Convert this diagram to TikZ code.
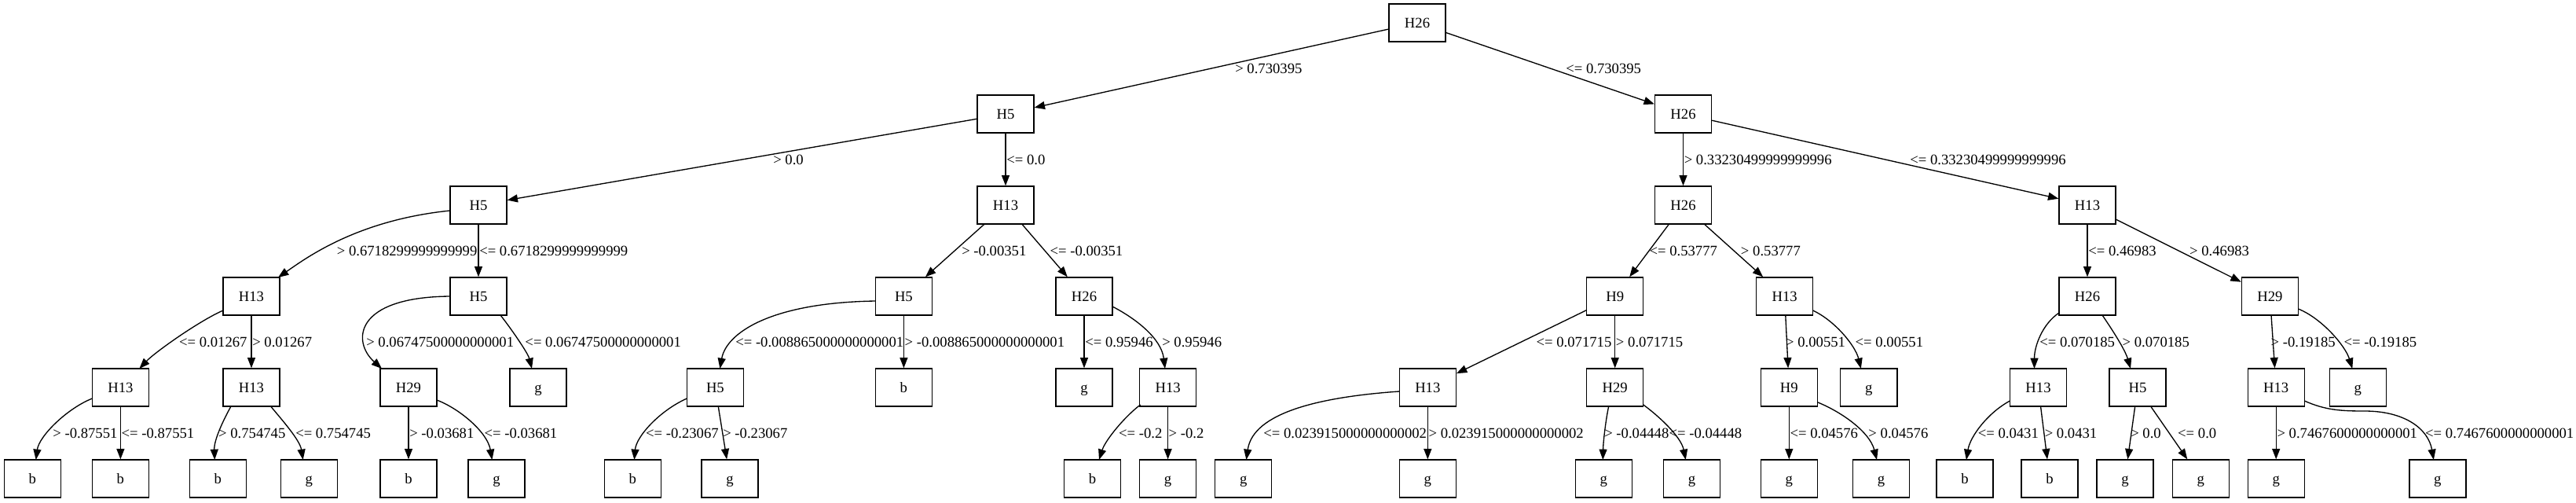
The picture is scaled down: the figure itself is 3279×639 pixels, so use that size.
\documentclass[tikz,border=0pt]{standalone}
\usepackage{fontspec}
\setmainfont{Liberation Serif}
\usetikzlibrary{arrows.meta,calc}
\begin{document}
\begin{tikzpicture}[x=0.75pt,y=-0.75pt,
  tn/.style={draw, line width=1pt, rectangle, minimum width=54pt, minimum height=36pt, inner sep=0pt, font=\fontsize{14}{16}\selectfont, text height=9.4pt, text depth=0pt},
  el/.style={anchor=west, inner sep=0pt, font=\fontsize{14}{16}\selectfont},
  conn/.style={line width=1pt, -{Triangle[length=10pt,width=7.5pt]}}]
\fill[white] (0,0) rectangle (3279,639);
\useasboundingbox (0,0) rectangle (3279,639);
% level 0-2
\node[tn] (n0) at (1804,29) {H26};
\node[tn] (n1) at (1280,145) {H5};
\node[tn] (n2) at (2142.5,145) {H26};
\node[tn] (n3) at (609,261) {H5};
\node[tn] (n4) at (1280,261) {H13};
\node[tn] (n5) at (2142.5,261) {H26};
\node[tn] (n6) at (2657,261) {H13};
% level 3
\node[tn] (n7) at (320,377) {H13};
\node[tn] (n8) at (609,377) {H5};
\node[tn] (n9) at (1150.4,377) {H5};
\node[tn] (n10) at (1380,377) {H26};
\node[tn] (n11) at (2055.7,377) {H9};
\node[tn] (n12) at (2271.6,377) {H13};
\node[tn] (n13) at (2657,377) {H26};
\node[tn] (n14) at (2889.4,377) {H29};
% level 4
\node[tn] (n15) at (153.4,493) {H13};
\node[tn] (n16) at (320,493) {H13};
\node[tn] (n17) at (520,493) {H29};
\node[tn] (n18) at (685,493) {g};
\node[tn] (n19) at (910.4,493) {H5};
\node[tn] (n20) at (1150.4,493) {b};
\node[tn] (n21) at (1380,493) {g};
\node[tn] (n22) at (1486.6,493) {H13};
\node[tn] (n23) at (1817.3,493) {H13};
\node[tn] (n24) at (2055.7,493) {H29};
\node[tn] (n25) at (2277.3,493) {H9};
\node[tn] (n26) at (2378.8,493) {g};
\node[tn] (n27) at (2594.5,493) {H13};
\node[tn] (n28) at (2721,493) {H5};
\node[tn] (n29) at (2897.2,493) {H13};
\node[tn] (n30) at (3001.3,493) {g};
% level 5
\node[tn] (n31) at (41.4,609) {b};
\node[tn] (n32) at (153.4,609) {b};
\node[tn] (n33) at (277.3,609) {b};
\node[tn] (n34) at (393.4,609) {g};
\node[tn] (n35) at (520,609) {b};
\node[tn] (n36) at (632,609) {g};
\node[tn] (n37) at (805.4,609) {b};
\node[tn] (n38) at (929.1,609) {g};
\node[tn] (n39) at (1390.5,609) {b};
\node[tn] (n40) at (1486.6,609) {g};
\node[tn] (n41) at (1582.7,609) {g};
\node[tn] (n42) at (1817.3,609) {g};
\node[tn] (n43) at (2041.3,609) {g};
\node[tn] (n44) at (2153.4,609) {g};
\node[tn] (n45) at (2277.3,609) {g};
\node[tn] (n46) at (2394.5,609) {g};
\node[tn] (n47) at (2500.9,609) {b};
\node[tn] (n48) at (2609.1,609) {b};
\node[tn] (n49) at (2704.9,609) {g};
\node[tn] (n50) at (2801.3,609) {g};
\node[tn] (n51) at (2897.2,609) {g};
\node[tn] (n52) at (3102.8,609) {g};
\coordinate (m52) at (3010,523);

% edges row 0-1
\draw[conn] (n0) -- (n1);
\node[el] at (1572,87.3) {> 0.730395};
\draw[conn] (n0) -- (n2);
\node[el] at (1993,87.3) {<= 0.730395};
% row 1-2
\draw[conn] (n1) -- (n3);
\node[el] at (984,203.3) {> 0.0};
\draw[conn] (n1) -- (n4);
\node[el] at (1281,203.3) {<= 0.0};
\draw[conn] (n2) -- (n5);
\node[el] at (2143.5,203.3) {> 0.33230499999999996};
\draw[conn] (n2) -- (n6);
\node[el] at (2431,203.3) {<= 0.33230499999999996};
% row 2-3
\draw[conn] ($(n3)+(-36,7)$) .. controls +(-118,12) and +(36,-25) .. ($(n7)+(34,-24)$);
\node[el] at (428.6,319.3) {> 0.6718299999999999};
\draw[conn] (n3) -- (n8);
\node[el] at (610,319.3) {<= 0.6718299999999999};
\draw[conn] (n4) -- (n9);
\node[el] at (1224,319.3) {> -0.00351};
\draw[conn] (n4) -- (n10);
\node[el] at (1336.4,319.3) {<= -0.00351};
\draw[conn] (n5) -- (n11);
\node[el] at (2099.3,319.3) {<= 0.53777};
\draw[conn] (n5) -- (n12);
\node[el] at (2215.7,319.3) {> 0.53777};
\draw[conn] (n6) -- (n13);
\node[el] at (2658,319.3) {<= 0.46983};
\draw[conn] (n6) -- (n14);
\node[el] at (2786.9,319.3) {> 0.46983};
% row 3-4
\draw[conn] ($(n7)+(-36,18)$) .. controls +(-30,13) and +(20,-21) .. ($(n15)+(24,-24)$);
\node[el] at (227.9,435.3) {<= 0.01267};
\draw[conn] (n7) -- (n16);
\node[el] at (321,435.3) {> 0.01267};
\draw[conn] ($(n8)+(-36,0)$) .. controls +(-123,1) and +(-38,-34) .. ($(n17)+(-34,-24)$);
\node[el] at (466,435.3) {> 0.06747500000000001};
\draw[conn] ($(n8)+(28,24)$) .. controls +(12,15) and +(-5,-20) .. ($(n18)+(-8,-24)$);
\node[el] at (668.2,435.3) {<= 0.06747500000000001};
\draw[conn] ($(n9)+(-36,6)$) .. controls +(-134,2) and +(8,-45) .. ($(n19)+(6,-24)$);
\node[el] at (936,435.3) {<= -0.008865000000000001};
\draw[conn] (n9) -- (n20);
\node[el] at (1151.4,435.3) {> -0.008865000000000001};
\draw[conn] (n10) -- (n21);
\node[el] at (1381,435.3) {<= 0.95946};
\draw[conn] ($(n10)+(36,13)$) .. controls +(29,15) and +(-5,-39) .. ($(n22)+(-3.6,-24)$);
\node[el] at (1479,435.3) {> 0.95946};
\draw[conn] (n11) -- (n23);
\node[el] at (1955.4,435.3) {<= 0.071715};
\draw[conn] (n11) -- (n24);
\node[el] at (2056.7,435.3) {> 0.071715};
\draw[conn] (n12) -- (n25);
\node[el] at (2272.9,435.3) {> 0.00551};
\draw[conn] ($(n12)+(36,18)$) .. controls +(28,13) and +(-7,-29) .. ($(n26)+(-10,-24)$);
\node[el] at (2361.4,435.3) {<= 0.00551};
\draw[conn] ($(n13)+(-36,21)$) .. controls +(-21,14) and +(0,-29) .. ($(n27)+(-5,-24)$);
\node[el] at (2596,435.3) {<= 0.070185};
\draw[conn] ($(n13)+(19,24)$) .. controls +(13,19) and +(-7,-24) .. ($(n28)+(-9,-24)$);
\node[el] at (2701.4,435.3) {> 0.070185};
\draw[conn] (n14) -- (n29);
\node[el] at (2890.4,435.3) {> -0.19185};
\draw[conn] ($(n14)+(36,16)$) .. controls +(30,12) and +(-9,-29) .. ($(n30)+(-7,-24)$);
\node[el] at (2983.3,435.3) {<= -0.19185};
% row 4-5
\draw[conn] ($(n15)+(-36,14)$) .. controls +(-32.5,13) and +(4,-30) .. ($(n31)+(4.3,-24)$);
\node[el] at (67.1,551.3) {> -0.87551};
\draw[conn] (n15) -- (n32);
\node[el] at (154.4,551.3) {<= -0.87551};
\draw[conn] ($(n16)+(-26,24)$) .. controls +(-10,18) and +(-1,-25) .. ($(n33)+(-4,-24)$);
\node[el] at (277.9,551.3) {> 0.754745};
\draw[conn] ($(n16)+(24.6,24)$) .. controls +(15,18) and +(-4,-25) .. ($(n34)+(-7.7,-24)$);
\node[el] at (376,551.3) {<= 0.754745};
\draw[conn] (n17) -- (n35);
\node[el] at (521,551.3) {> -0.03681};
\draw[conn] ($(n17)+(36,16)$) .. controls +(29,11) and +(-6,-35) .. ($(n36)+(-5.6,-24)$);
\node[el] at (616.4,551.3) {<= -0.03681};
\draw[conn] ($(n19)+(-36,14)$) .. controls +(-34,15) and +(2.5,-30) .. ($(n37)+(2,-24)$);
\node[el] at (821.8,551.3) {<= -0.23067};
\draw[conn] (n19) -- (n38);
\node[el] at (920,551.3) {> -0.23067};
\draw[conn] ($(n22)+(-35,22)$) .. controls +(-20,15) and +(8,-25) .. ($(n39)+(8.5,-24)$);
\node[el] at (1423.9,551.3) {<= -0.2};
\draw[conn] (n22) -- (n40);
\node[el] at (1487.4,551.3) {> -0.2};
\draw[conn] ($(n23)+(-36,5)$) .. controls +(-101,7) and +(8.6,-60) .. ($(n41)+(3.7,-24)$);
\node[el] at (1608,551.3) {<= 0.023915000000000002};
\draw[conn] (n23) -- (n42);
\node[el] at (1818.3,551.3) {> 0.023915000000000002};
\draw[conn] ($(n24)+(-8,24)$) .. controls +(-3,13) and +(0.5,-25) .. ($(n43)+(-1,-24)$);
\node[el] at (2042,551.3) {> -0.04448};
\draw[conn] ($(n24)+(36,22)$) .. controls +(18,13) and +(-6,-30) .. ($(n44)+(-7.7,-24)$);
\node[el] at (2124.3,551.3) {<= -0.04448};
\draw[conn] (n25) -- (n45);
\node[el] at (2278.3,551.3) {<= 0.04576};
\draw[conn] ($(n25)+(36,18.7)$) .. controls +(32,13) and +(-9,-35) .. ($(n46)+(-5.5,-24)$);
\node[el] at (2378.2,551.3) {> 0.04576};
\draw[conn] ($(n27)+(-36,17)$) .. controls +(-28,15) and +(5,-30) .. ($(n47)+(2,-24)$);
\node[el] at (2517.5,551.3) {<= 0.0431};
\draw[conn] (n27) -- (n48);
\node[el] at (2602.5,551.3) {> 0.0431};
\draw[conn] (n28) -- (n49);
\node[el] at (2712,551.3) {> 0.0};
\draw[conn] (n28) -- (n50);
\node[el] at (2771.9,551.3) {<= 0.0};
\draw[conn] (n29) -- (n51);
\node[el] at (2898.2,551.3) {> 0.7467600000000001};
\draw[conn] ($(n29)+(36,17)$) .. controls +(27,12) and +(-30,0) .. (m52) .. controls +(50,0) and +(-7,-40) .. ($(n52)+(-5,-24)$);
\node[el] at (3086.9,551.3) {<= 0.7467600000000001};
\end{tikzpicture}
\end{document}
